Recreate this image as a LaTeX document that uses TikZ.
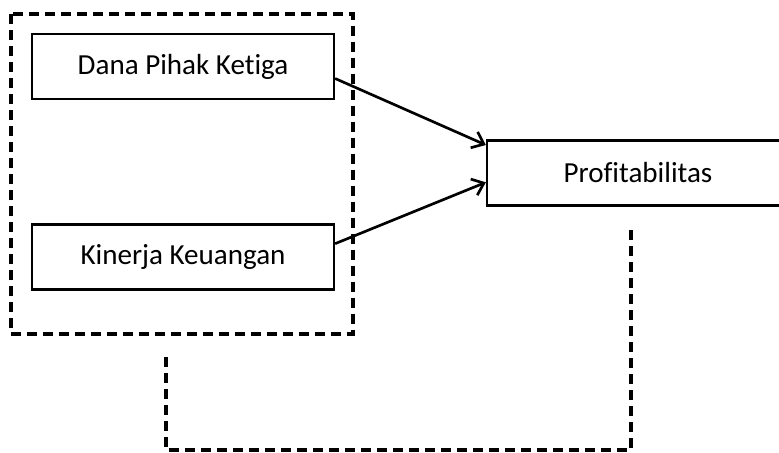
\documentclass[tikz,border=0pt]{standalone}
\usepackage{fontspec}
\setmainfont[Ligatures={NoCommon}]{Carlito}
\usetikzlibrary{arrows.meta}
\newcommand{\hurufvar}{\fontsize{21.8pt}{26pt}\selectfont}

\begin{document}
\begin{tikzpicture}[x=0.75pt,y=-0.75pt,>={Straight Barb[length=8pt,width=13pt]},
  var/.style={draw,line width=1.7pt,minimum width=226.5pt,minimum height=48.75pt,
    inner sep=0pt,font=\hurufvar},
  garis/.style={line width=2.5pt,dash pattern=on 7.5pt off 4.5pt}]
  \useasboundingbox (0,0) rectangle (779,453);
  \node[var] (dana) at (183,66.5) {Dana Pihak Ketiga};
  \node[var] (kinerja) at (183,257) {Kinerja Keuangan};
  \node[var] (profit) at (638,173) {Profitabilitas};
  \draw[garis] (11,14) rectangle (353,334);
  \draw[->,line width=2pt] ([yshift=-9pt]dana.east) -- ([yshift=21pt]profit.west);
  \draw[->,line width=2pt] ([yshift=10pt]kinerja.east) -- ([yshift=-7pt]profit.west);
  % garis putus-putus bawah
  \coordinate (a) at (166,357);
  \coordinate (b) at (631,226);
  \draw[garis] (a) -- (166,450) -- (631,450) -- (b);
\end{tikzpicture}
\end{document}
